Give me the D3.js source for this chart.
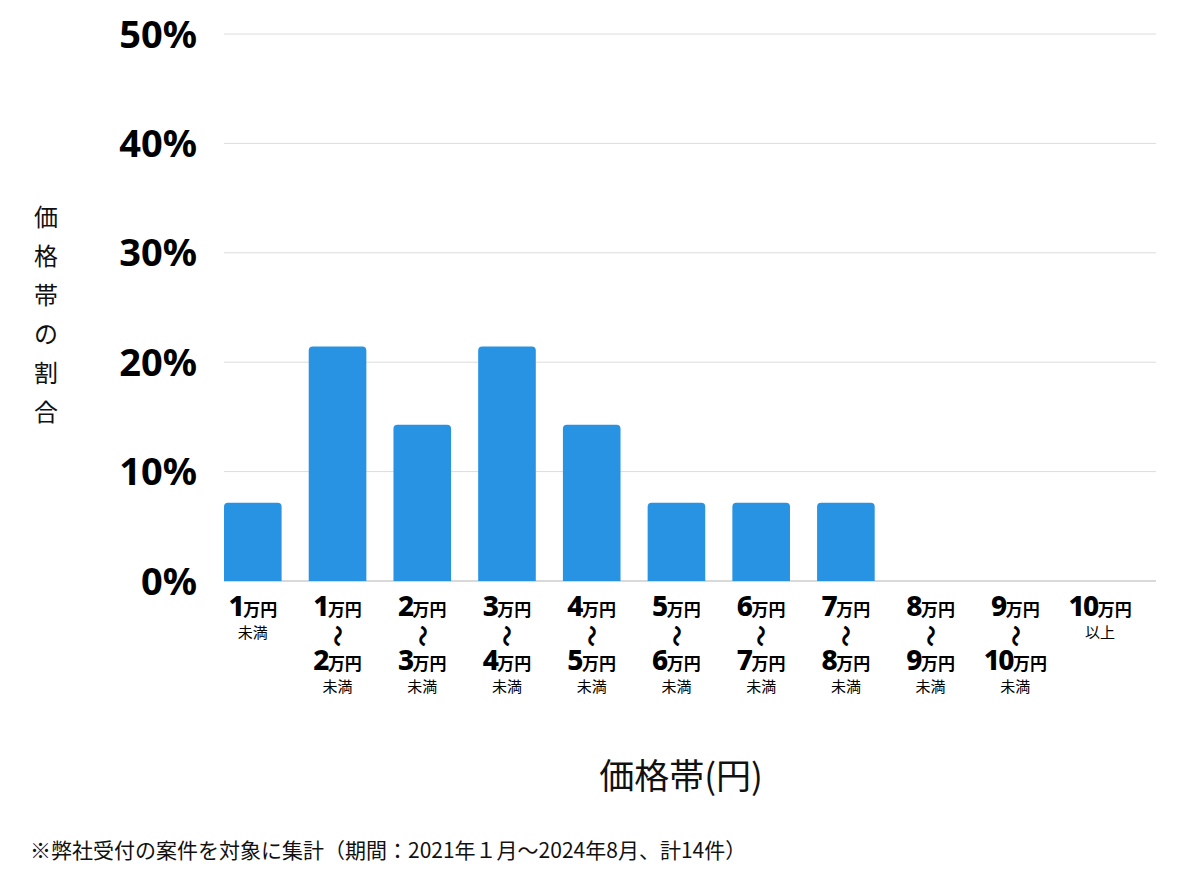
<!DOCTYPE html>
<html><head><meta charset="utf-8">
<script src="https://cdn.jsdelivr.net/npm/d3@7"></script>
<style>
html,body{margin:0;padding:0;background:#fff;}
svg{display:block;}
text{font-family:"Noto Sans CJK JP","Noto Sans",sans-serif;}
</style></head>
<body>
<svg id="chart" width="1200" height="874"></svg>
<script>
// Data
const categories = ["lt1","1-2","2-3","3-4","4-5","5-6","6-7","7-8","8-9","9-10","ge10"];
const fromLabels = ["1","1","2","3","4","5","6","7","8","9","10"];
const toLabels   = [null,"2","3","4","5","6","7","8","9","10",null];
const suffixLabels = ["未満","未満","未満","未満","未満","未満","未満","未満","未満","未満","以上"];
const counts = [1,3,2,3,2,1,1,1,0,0,0];
const total = 14;
const shares = counts.map(c => c / total * 100);
const yTicks = [0,10,20,30,40,50];
const yTitle = "価格帯の割合";
const xTitle = "価格帯(円)";
const footnote = "※弊社受付の案件を対象に集計（期間：2021年１月〜2024年8月、計14件）";

const svg = d3.select("#chart");
const margin = {left:224, right:44, top:34, bottom:293};
const W = 1200, H = 874;
const x = d3.scaleBand().domain(categories).range([margin.left, W - margin.right]).padding(0);
const y = d3.scaleLinear().domain([0,50]).range([H - margin.bottom, margin.top]);
const barW = x.bandwidth() * 0.68;

// gridlines
svg.append("g").selectAll("line").data(yTicks).join("line")
  .attr("x1", margin.left).attr("x2", W - margin.right)
  .attr("y1", d => y(d)).attr("y2", d => y(d))
  .attr("stroke", d => d === 0 ? "#b3b3b3" : "#dcdcdc").attr("stroke-width", 1);

// y tick labels
svg.append("g").selectAll("text").data(yTicks).join("text")
  .attr("x", 197).attr("y", d => y(d)).attr("dy", "0.36em")
  .attr("text-anchor", "end")
  .style("font-family", "'Noto Sans',sans-serif")
  .attr("font-weight", 700).attr("font-size", 38).attr("fill", "#000")
  .text(d => d + "%");

// bars with rounded top
function barPath(x0, y0, w, h, r) {
  r = Math.min(r, h, w/2);
  if (h <= 0) return "";
  return `M${x0},${y0+h}V${y0+r}Q${x0},${y0} ${x0+r},${y0}H${x0+w-r}Q${x0+w},${y0} ${x0+w},${y0+r}V${y0+h}Z`;
}
svg.append("g").selectAll("path").data(categories).join("path")
  .attr("d", (c,i) => barPath(x(c), y(shares[i]), barW, y(0) - y(shares[i]), 4))
  .attr("fill", "#2893e3");

// x labels
const lg = svg.append("g");
categories.forEach((c,i) => {
  const cx = x(c) + barW/2;
  const g = lg.append("g");
  const line = (val, base) => {
    const t = g.append("text").attr("x", cx).attr("y", base).attr("text-anchor","middle").attr("fill","#000");
    t.append("tspan").style("font-family","'Noto Sans',sans-serif").attr("font-weight",800).attr("font-size",28).attr("letter-spacing",-1.5).text(val);
    t.append("tspan").attr("font-weight",700).attr("font-size",17).text("万円");
  };
  line(fromLabels[i], 616);
  if (toLabels[i] !== null) {
    g.append("text").attr("transform", `translate(${cx},636) rotate(90)`)
      .attr("text-anchor","middle").attr("dy","0.35em")
      .attr("font-weight",700).attr("font-size",22).attr("fill","#000").text("〜");
    line(toLabels[i], 670);
    g.append("text").attr("x", cx).attr("y", 692).attr("text-anchor","middle")
      .attr("font-size",15).attr("fill","#000").text(suffixLabels[i]);
  } else {
    g.append("text").attr("x", cx).attr("y", 638).attr("text-anchor","middle")
      .attr("font-size",15).attr("fill","#000").text(suffixLabels[i]);
  }
});

// y title (vertical)
const yt = svg.append("text").attr("text-anchor","middle").attr("font-size",24).attr("fill","#111");
Array.from(yTitle).forEach((ch,k) => {
  yt.append("tspan").attr("x", 46).attr("y", 226 + k*39).text(ch);
});

// x title
svg.append("text").attr("x", 681).attr("y", 789).attr("text-anchor","middle")
  .attr("font-size",35).attr("fill","#111").text(xTitle);

// footnote
svg.append("text").attr("x", 30).attr("y", 858)
  .attr("font-size",21).attr("fill","#111").text(footnote);
</script>
</body></html>
